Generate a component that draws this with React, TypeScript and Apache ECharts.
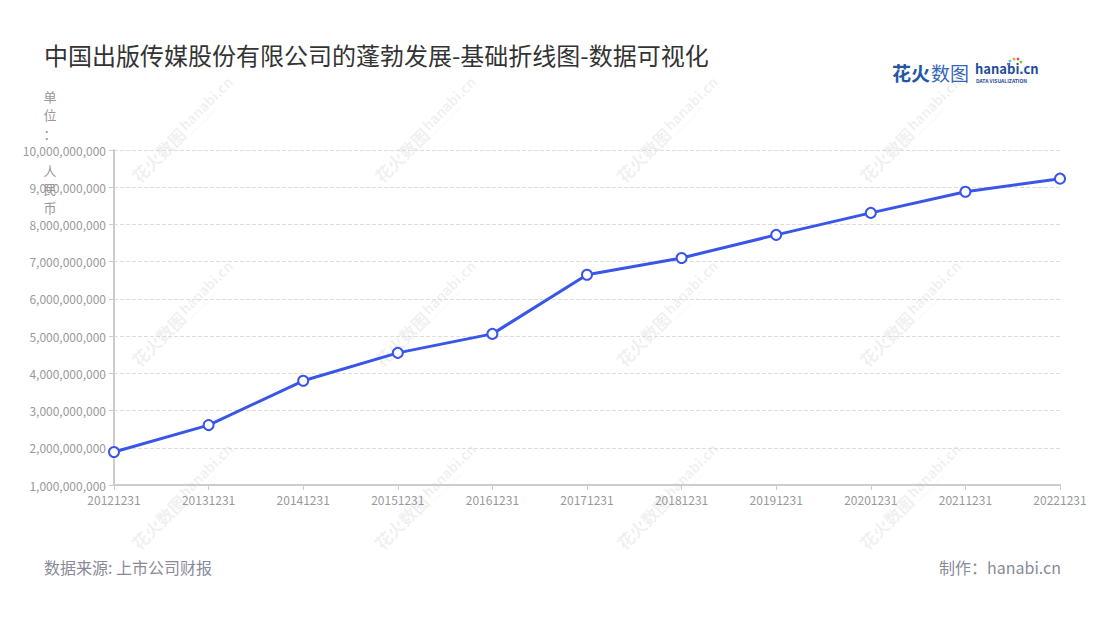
import React, { useEffect, useRef } from "react";
import * as echarts from "echarts";

const categories = [
  "20121231", "20131231", "20141231", "20151231", "20161231", "20171231",
  "20181231", "20191231", "20201231", "20211231", "20221231",
];
const revenue = [
  1887000000, 2610000000, 3800000000, 4550000000, 5060000000, 6650000000,
  7100000000, 7720000000, 8310000000, 8880000000, 9230000000,
];
const titleText = "中国出版传媒股份有限公司的蓬勃发展-基础折线图-数据可视化";
const unitChars = ["单", "位", "：", "", "人", "民", "币"];
const sourceText = "数据来源: 上市公司财报";
const creditText = "制作：hanabi.cn";
const wmCols = [185, 428, 670, 913];
const wmRows = [128, 312, 495];

const FONT = '"Noto Sans CJK SC", "Noto Sans", sans-serif';
const WM = "rgba(160,160,160,0.16)";

function watermark(cx: number, cy: number) {
  return {
    type: "group",
    x: cx,
    y: cy,
    rotation: Math.PI / 4,
    silent: true,
    z: 0,
    children: [
      {
        type: "text",
        x: -72,
        y: 0,
        style: { text: "花火数图", font: `bold 17px ${FONT}`, fill: WM, verticalAlign: "middle" },
      },
      {
        type: "text",
        x: -2,
        y: -3,
        style: { text: "hanabi.cn", font: `bold 14px ${FONT}`, fill: WM, verticalAlign: "middle" },
      },
      {
        type: "text",
        x: -1,
        y: 8,
        style: { text: "DATA VISUALIZATION", font: `4px ${FONT}`, fill: WM, verticalAlign: "middle" },
      },
    ],
  };
}

export default function App() {
  const ref = useRef<HTMLDivElement>(null);
  useEffect(() => {
    if (!ref.current) return;
    const chart = echarts.init(ref.current, null, { renderer: "svg" });
    const graphics: any[] = [];
    wmRows.forEach((r) => wmCols.forEach((c) => graphics.push(watermark(c, r))));
    unitChars.forEach((ch, i) => {
      if (!ch) return;
      graphics.push({
        type: "text",
        x: 50,
        y: 96 + i * 18.5,
        style: { text: ch, font: `13px ${FONT}`, fill: "#999", align: "center", verticalAlign: "middle" },
      });
    });
    // logo
    graphics.push(
      {
        type: "text",
        x: 892,
        y: 72,
        style: { text: "花火", font: `bold 19px ${FONT}`, fill: "#2456a6", verticalAlign: "middle" },
      },
      {
        type: "text",
        x: 931,
        y: 72,
        style: { text: "数图", font: `19px ${FONT}`, fill: "#3566b8", verticalAlign: "middle" },
      },
      {
        type: "text",
        x: 975,
        y: 68,
        style: { text: "hanabi.cn", font: `bold 13px ${FONT}`, fill: "#1f4e9c", verticalAlign: "middle" },
      },
      {
        type: "text",
        x: 976,
        y: 80,
        style: { text: "DATA VISUALIZATION", font: `bold 5px ${FONT}`, fill: "#1f4e9c", verticalAlign: "middle" },
      },
      { type: "circle", shape: { cx: 1014, cy: 59, r: 1.5 }, style: { fill: "#f5a623" } },
      { type: "circle", shape: { cx: 1018, cy: 59, r: 1.5 }, style: { fill: "#e94b8a" } },
      { type: "circle", shape: { cx: 1010, cy: 61, r: 1.4 }, style: { fill: "#4fc3f7" } },
      { type: "circle", shape: { cx: 1021, cy: 62, r: 1.4 }, style: { fill: "#7ed321" } },
      { type: "circle", shape: { cx: 1008, cy: 64, r: 1.2 }, style: { fill: "#9b59b6" } }
    );
    graphics.push(
      {
        type: "text",
        x: 44,
        y: 567,
        style: { text: sourceText, font: `16px ${FONT}`, fill: "#8a8a9a", verticalAlign: "middle" },
      },
      {
        type: "text",
        x: 1061,
        y: 567,
        style: { text: creditText, font: `16px ${FONT}`, fill: "#8a8a9a", align: "right", verticalAlign: "middle" },
      }
    );

    chart.setOption({
      animation: false,
      backgroundColor: "#fff",
      title: {
        text: titleText,
        left: 39,
        top: 37,
        textStyle: { fontFamily: FONT, fontSize: 24, fontWeight: "normal", color: "#333" },
      },
      grid: { left: 114, right: 40, top: 150, bottom: 135, containLabel: false },
      xAxis: {
        type: "category",
        data: categories,
        boundaryGap: false,
        axisLine: { lineStyle: { color: "#ccc", width: 2 } },
        axisTick: { show: true, length: 5, lineStyle: { color: "#ccc" } },
        axisLabel: { color: "#999", fontSize: 12, fontFamily: FONT, margin: 8, interval: 0 },
      },
      yAxis: {
        type: "value",
        min: 1000000000,
        max: 10000000000,
        interval: 1000000000,
        axisLine: { show: true, lineStyle: { color: "#ccc", width: 2 } },
        axisTick: { show: true, length: 5, lineStyle: { color: "#ccc" } },
        axisLabel: {
          color: "#999",
          fontSize: 12,
          fontFamily: FONT,
          margin: 8,
          formatter: (v: number) => v.toLocaleString("en-US"),
        },
        splitLine: { lineStyle: { color: "#ddd", type: "dashed" } },
      },
      series: [
        {
          type: "line",
          data: revenue,
          symbol: "circle",
          symbolSize: 10,
          lineStyle: { color: "#3a56e8", width: 3 },
          itemStyle: { color: "#fff", borderColor: "#3a56e8", borderWidth: 2 },
          z: 5,
        },
      ],
      graphic: graphics,
    });
    return () => chart.dispose();
  }, []);
  return <div ref={ref} style={{ width: 1100, height: 620, margin: -8 }} />;
}
